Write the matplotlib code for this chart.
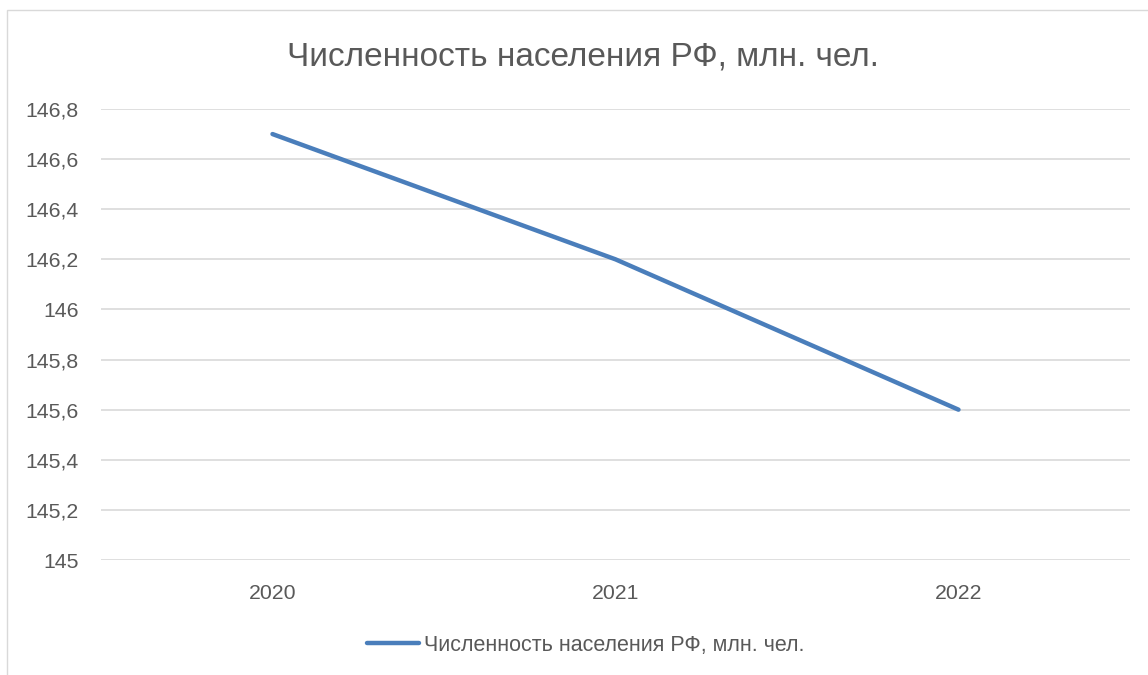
import matplotlib
matplotlib.use("Agg")
import matplotlib.pyplot as plt
from matplotlib.patches import Rectangle

years = ["2020", "2021", "2022"]
population = [146.7, 146.2, 145.6]
y_ticks = [145.0, 145.2, 145.4, 145.6, 145.8, 146.0, 146.2, 146.4, 146.6, 146.8]
y_tick_labels = ["145", "145,2", "145,4", "145,6", "145,8", "146", "146,2", "146,4", "146,6", "146,8"]
title = "Численность населения РФ, млн. чел."
series_name = "Численность населения РФ, млн. чел."

plt.rcParams['font.family'] = ['Liberation Sans', 'DejaVu Sans']
W, H = 1148, 675
fig = plt.figure(figsize=(W / 100, H / 100), dpi=100)
fig.patch.set_facecolor("white")

# chart border
fig.add_artist(Rectangle((7 / W, -0.1), 1.2, 1 - 10 / H + 0.1, transform=fig.transFigure,
                         fill=False, edgecolor="#D9D9D9", linewidth=1.0))

ax = fig.add_axes([101 / W, 1 - 560 / H, (1130 - 101) / W, (560 - 109) / H])
x = list(range(len(years)))
line, = ax.plot(x, population, color="#4A7EBB", linewidth=3.2, solid_capstyle="round",
                label=series_name)
ax.set_xlim(-0.5, len(years) - 0.5)
ax.set_ylim(145.0, 146.8)
ax.set_yticks(y_ticks)
ax.set_yticklabels(y_tick_labels)
ax.set_xticks(x)
ax.set_xticklabels(years)
ax.tick_params(axis="both", length=0, labelsize=15.3, labelcolor="#595959")
ax.tick_params(axis="y", pad=16)
ax.tick_params(axis="x", pad=17)
for s in ax.spines.values():
    s.set_visible(False)
ax.grid(axis="y", color="#D9D9D9", linewidth=1.2)
ax.set_axisbelow(True)

fig.text(583 / W, 1 - 57 / H, title, ha="center", va="center", fontsize=24, color="#595959")

fig.legend(handles=[line], loc="center", bbox_to_anchor=(586 / W, 1 - 645 / H),
           frameon=False, fontsize=15.5, labelcolor="#595959", handlelength=2.4,
           handletextpad=0.25)

fig.savefig("out.png", dpi=100)
